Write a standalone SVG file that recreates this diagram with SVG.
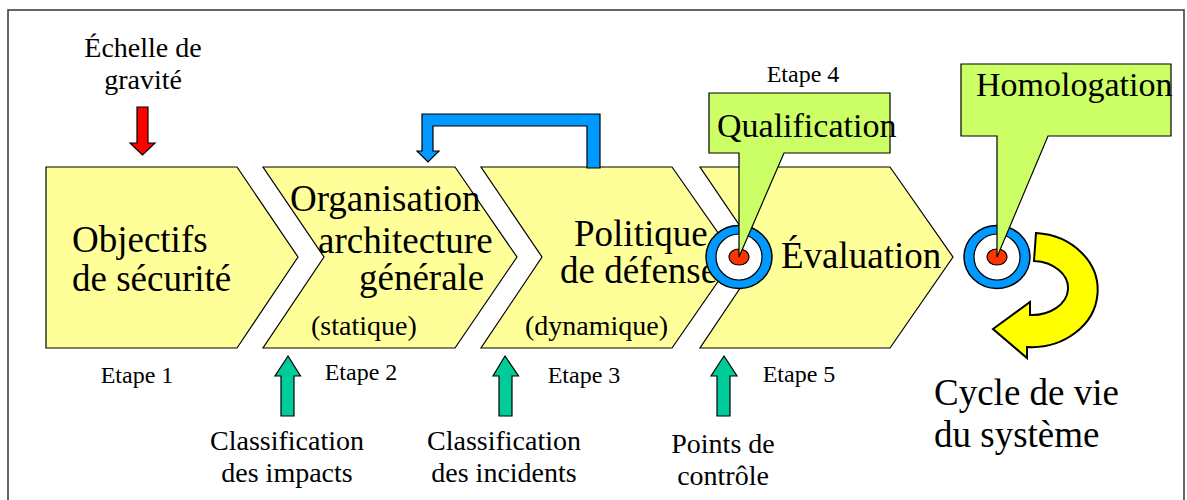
<svg xmlns="http://www.w3.org/2000/svg" width="1187" height="500" viewBox="0 0 1187 500">
<style>
text{font-family:"Liberation Serif","Times New Roman",serif;fill:#000}
.chev{fill:#FFFF99;stroke:#000;stroke-width:1.2}
.big{font-size:37px}
.mid{font-size:28px}
.sm{font-size:24px}
.call{fill:#CCFF66;stroke:#000;stroke-width:1.2}
.green{fill:#00CC99;stroke:#000;stroke-width:1.2}
.ring{fill:#0099FF;stroke:#000;stroke-width:1.5}
</style>
<rect x="8" y="10" width="1176" height="500" fill="#fff" stroke="#333" stroke-width="1.5"/>

<g id="step1">
<polygon class="chev" points="46,167 237,167 298,257 237,348 46,348"/>
<text class="big" x="72" y="252">Objectifs</text>
<text class="big" x="72" y="291">de sécurité</text>
<text class="sm" x="137" y="383" text-anchor="middle">Etape 1</text>
</g>
<g id="step2">
<polygon class="chev" points="263,167 455,167 517,257 455,348 263,348 324,257"/>
<text class="big" x="290" y="211">Organisation</text>
<text class="big" x="318" y="253">architecture</text>
<text class="big" x="359" y="290">générale</text>
<text class="mid" x="311" y="335">(statique)</text>
<text class="sm" x="361" y="380" text-anchor="middle">Etape 2</text>
</g>
<g id="step3">
<polygon class="chev" points="481,167 672,167 735,257 672,348 481,348 542,257"/>
<text class="big" x="574" y="246">Politique</text>
<text class="big" x="560" y="283">de défense</text>
<text class="mid" x="525" y="335">(dynamique)</text>
<text class="sm" x="584" y="383" text-anchor="middle">Etape 3</text>
</g>
<g id="step4">
<polygon class="chev" points="700,167 890,167 953,257 890,348 700,348 761,257"/>
<text class="big" x="781" y="268">Évaluation</text>
<text class="sm" x="799" y="382" text-anchor="middle">Etape 5</text>
</g>
<g id="target1">
<ellipse class="ring" cx="739" cy="257" rx="33" ry="31.5"/>
<ellipse cx="739" cy="257" rx="23" ry="23" fill="#fff" stroke="#000" stroke-width="1.2"/>
<ellipse cx="739" cy="257" rx="10" ry="8" fill="#FF3300" stroke="#000" stroke-width="1.2"/>
</g>
<g id="target2">
<ellipse class="ring" cx="997" cy="257" rx="33" ry="31.5"/>
<ellipse cx="997" cy="257" rx="23" ry="23" fill="#fff" stroke="#000" stroke-width="1.2"/>
<ellipse cx="997" cy="257" rx="10" ry="8" fill="#FF3300" stroke="#000" stroke-width="1.2"/>
</g>
<g id="qualification">
<text class="sm" x="803" y="82" text-anchor="middle">Etape 4</text>
<path class="call" d="M709,93 H890 V153 H784 L739,257 V153 H709 Z"/>
<text font-size="34" x="717" y="137">Qualification</text>
</g>
<g id="homologation">
<path class="call" d="M961,64 H1171 V136 H1048 L997,257 V136 H961 Z"/>
<text font-size="34" x="976" y="96">Homologation</text>
</g>
<g id="gravite">
<text class="mid" x="143" y="57" text-anchor="middle">Échelle de</text>
<text class="mid" x="143" y="89" text-anchor="middle">gravité</text>
</g>
<g id="impacts">
<text class="mid" x="287" y="450" text-anchor="middle">Classification</text>
<text class="mid" x="287" y="482" text-anchor="middle">des impacts</text>
</g>
<g id="incidents">
<text class="mid" x="504" y="450" text-anchor="middle">Classification</text>
<text class="mid" x="504" y="482" text-anchor="middle">des incidents</text>
</g>
<g id="controle">
<text class="mid" x="723" y="453" text-anchor="middle">Points de</text>
<text class="mid" x="723" y="485" text-anchor="middle">contrôle</text>
</g>
<g id="cycle">
<text class="big" x="934" y="405">Cycle de vie</text>
<text class="big" x="934" y="447">du système</text>
</g>
<g id="connectors">
<polygon points="137,107 148,107 148,143 155,143 142.5,155 130,143 137,143" fill="#FF0000" stroke="#000" stroke-width="1.2"/>
<polygon points="422,114 600,114 600,168 587,168 587,126 433,126 433,151 439,151 428,162 417,151 422,151" fill="#0099FF" stroke="#000" stroke-width="1.2"/>
<polygon class="green" points="288,356 300.5,376 294,376 294,416 281,416 281,376 275,376"/>
<polygon class="green" points="505,356 518.5,376 512,376 512,416 499,416 499,376 493,376"/>
<polygon class="green" points="724,356 737,376 730,376 730,416 717,416 717,376 711,376"/>
<path d="M1036,233 A66,57 0 0 1 1027,347 L1027,358 L993,329 L1030,302 L1030,315 A36,27 0 0 0 1034,261 Z" fill="#FFFF00" stroke="#000" stroke-width="2"/>
</g>
</svg>
